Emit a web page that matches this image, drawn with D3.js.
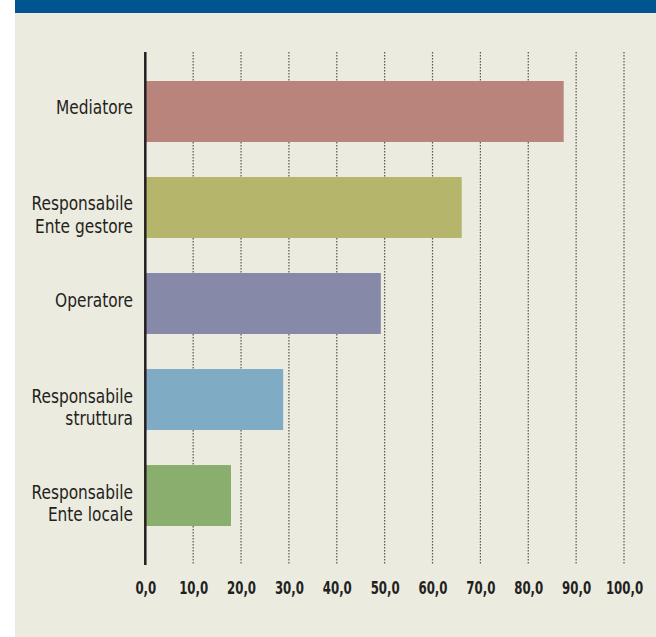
<!DOCTYPE html>
<html>
<head>
<meta charset="utf-8">
<script src="https://cdn.jsdelivr.net/npm/d3@7"></script>
<style>
  body { margin: 0; background: #fff; }
  svg { display: block; }
  .cat text { font-family: "DejaVu Sans Condensed", "DejaVu Sans", sans-serif; font-size: 19px; fill: #231f20; }
  .axis--x text { font-family: "DejaVu Sans Condensed", "DejaVu Sans", sans-serif; font-size: 17px; font-weight: bold; fill: #231f20; }
</style>
</head>
<body>
<svg id="chart" width="656" height="637"></svg>
<script>
// data
var categories = ["Mediatore", "Responsabile\nEnte gestore", "Operatore", "Responsabile\nstruttura", "Responsabile\nEnte locale"];
var values = [87.4, 66.1, 49.2, 28.8, 17.9];
var colors = ["#b9847b", "#b5b56b", "#8789a8", "#7facc4", "#8aae6e"];
var ticks = [0, 10, 20, 30, 40, 50, 60, 70, 80, 90, 100];

var svg = d3.select("#chart");

// background panel + top band
svg.append("rect").attr("x", 15).attr("y", 0).attr("width", 641).attr("height", 637).attr("fill", "#ecebe0");
svg.append("rect").attr("x", 15).attr("y", 0).attr("width", 641).attr("height", 13).attr("fill", "#00548f");

var x = d3.scaleLinear().domain([0, 100]).range([145.3, 624]);
var y = d3.scaleBand().domain(categories).range([52.2, 554.8]).paddingInner(0.365).paddingOuter(0.3);

var gridTop = 52, gridBottom = 565;

// dotted grid
svg.append("g").selectAll("line")
  .data(ticks.slice(1))
  .enter().append("line")
    .attr("x1", function(d) { return x(d); })
    .attr("x2", function(d) { return x(d); })
    .attr("y1", gridTop)
    .attr("y2", gridBottom)
    .attr("stroke", "#555")
    .attr("stroke-width", 1.2)
    .attr("stroke-dasharray", "1.5,1.5");

// bars
svg.append("g").selectAll("rect")
  .data(values)
  .enter().append("rect")
    .attr("x", x(0))
    .attr("y", function(d, i) { return y(categories[i]); })
    .attr("width", function(d) { return x(d) - x(0); })
    .attr("height", y.bandwidth())
    .attr("fill", function(d, i) { return colors[i]; });

// y axis line
svg.append("line")
  .attr("x1", x(0)).attr("x2", x(0))
  .attr("y1", gridTop).attr("y2", gridBottom)
  .attr("stroke", "#231f20").attr("stroke-width", 2.5);

// category labels (first line sits near the bar middle, second below)
var cat = svg.append("g").attr("class", "cat");
categories.forEach(function(c) {
  var lines = c.split("\n");
  var cy = y(c) + y.bandwidth() / 2;
  var t = cat.append("text")
    .attr("text-anchor", "end")
    .attr("transform", "translate(133," + (cy + 3) + ") scale(0.9,1)");
  lines.forEach(function(l, j) {
    t.append("tspan")
      .attr("x", 0)
      .attr("y", j * 22.7)
      .text(l);
  });
});

// x axis labels
var xAxis = d3.axisBottom(x).tickValues(ticks).tickSize(0).tickPadding(0)
  .tickFormat(function(d) { return d3.format(".1f")(d).replace(".", ","); });
svg.append("g")
  .attr("class", "axis axis--x")
  .attr("transform", "translate(0,594)")
  .call(xAxis)
  .call(function(g) { g.select(".domain").remove(); })
  .call(function(g) {
    g.selectAll(".tick text").attr("dy", null).attr("y", 0)
      .attr("transform", "scale(0.77,1)");
  });
</script>
</body>
</html>
